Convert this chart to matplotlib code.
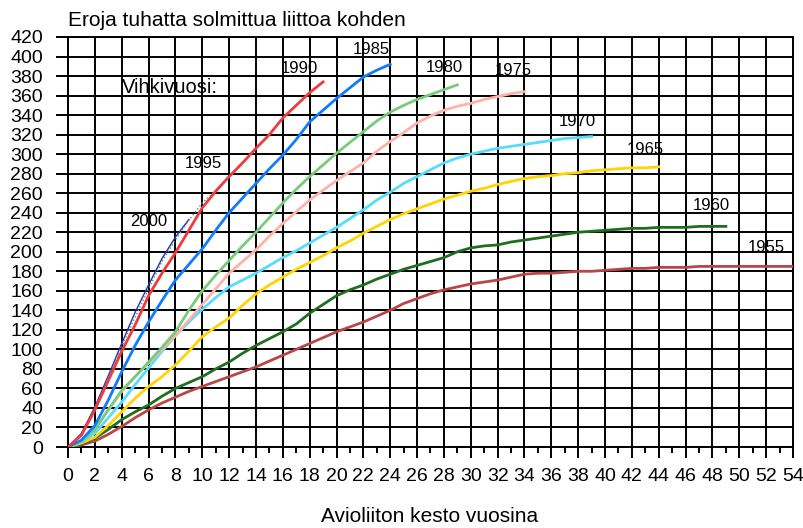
import matplotlib
matplotlib.use('Agg')
import matplotlib.pyplot as plt

# vihkivuosi -> erot tuhatta liittoa kohden avioliiton keston mukaan (0, 1, 2, ... vuotta)
y1955 = [0, 2, 6, 13, 21, 30, 38, 45, 51, 57, 62, 67, 72, 77, 82, 88, 94, 100, 106, 112,
         118, 123, 128, 134, 140, 147, 152, 157, 161, 164, 167, 169, 171, 174, 177, 178, 178,
         179, 180, 180, 181, 182, 183, 183, 184, 184, 184, 185, 185, 185, 185, 185, 185, 185, 185]
y1960 = [0, 3, 9, 18, 28, 36, 43, 52, 60, 66, 72, 80, 87, 96, 104, 111, 118, 126, 137, 146,
         155, 161, 166, 172, 177, 182, 186, 190, 194, 200, 204, 206, 207, 210, 212, 214, 216,
         218, 220, 221, 222, 223, 224, 224, 225, 225, 225, 226, 226, 226]
y1965 = [0, 4, 10, 22, 36, 50, 62, 72, 84, 98, 113, 123, 132, 145, 157, 166, 174, 182, 189,
         196, 204, 211, 219, 226, 233, 239, 244, 249, 254, 258, 262, 265, 269, 272, 275, 277,
         278, 280, 281, 283, 284, 285, 286, 286, 287]
y1970 = [0, 5, 14, 30, 46, 64, 81, 98, 114, 128, 141, 153, 164, 171, 178, 186, 194, 201, 209,
         217, 225, 234, 243, 253, 261, 270, 277, 284, 291, 296, 300, 303, 306, 308, 310, 312,
         314, 316, 317, 318]
y1975 = [0, 6, 18, 38, 57, 72, 86, 100, 114, 130, 146, 162, 178, 190, 202, 216, 229, 241, 253,
         263, 273, 282, 291, 303, 313, 322, 332, 339, 345, 349, 352, 356, 359, 362, 364]
y1980 = [0, 6, 18, 38, 58, 72, 87, 102, 118, 140, 160, 176, 191, 206, 220, 235, 250, 264, 277,
         289, 301, 312, 323, 334, 343, 350, 356, 361, 366, 371]
y1985 = [0, 7, 22, 48, 77, 104, 128, 150, 171, 187, 203, 222, 240, 255, 270, 285, 299, 315,
         333, 345, 357, 368, 379, 386, 392]
y1990 = [0, 12, 38, 68, 98, 125, 155, 178, 199, 222, 245, 262, 277, 291, 306, 320, 337, 350,
         363, 374]
y1995 = [0, 12, 40, 71, 103, 133, 162, 190, 212, 232, 250, 263, 277, 291, 305]
y2000 = [0, 14, 41, 73, 106, 138, 166, 193, 215, 233]

series = [
    ('1955', y1955, '#b94646', 2.0, '-'),
    ('1960', y1960, '#1f6e1f', 2.0, '-'),
    ('1965', y1965, '#ffd400', 2.0, '-'),
    ('1970', y1970, '#55dcff', 2.0, '-'),
    ('1975', y1975, '#ffb2aa', 2.0, '-'),
    ('1980', y1980, '#78cc78', 2.0, '-'),
    ('1985', y1985, '#0f7cff', 2.0, '-'),
    ('2000', y2000, '#2430b0', 1.0, '-'),
    ('1995', y1995, '#3c9c8a', 1.0, ':'),
    ('1990', y1990, '#ee3b3b', 2.0, '-'),
]

# nimiöiden paikat (vuosi, arvo)
label_pos = {
    '1955': (52.0, 204), '1960': (47.9, 247), '1965': (43.0, 305), '1970': (37.9, 333),
    '1975': (33.2, 386), '1980': (28.0, 389), '1985': (22.6, 407), '1990': (17.2, 388),
    '1995': (10.1, 290), '2000': (6.0, 231),
}

fig = plt.figure(figsize=(8.04, 5.28), dpi=100)
ax = fig.add_axes([68 / 804, 81 / 528, 725 / 804, 410 / 528])

for name, vals, col, lw, ls in series:
    ax.plot(range(len(vals)), vals, color=col, lw=lw, ls=ls, zorder=3)

for name, (lx, ly) in label_pos.items():
    ax.text(lx, ly, name, ha='center', va='center', fontsize=12,
            family='Liberation Sans', clip_on=False, zorder=4)
ax.text(4, 368, 'Vihkivuosi:', ha='left', va='center', fontsize=14.5,
        family='Liberation Sans', zorder=4)

ax.set_xlim(0, 54)
ax.set_ylim(0, 420)
ax.set_xticks(range(0, 55, 2))
ax.set_xticks(range(1, 54, 2), minor=True)
ax.set_yticks(range(0, 421, 20))
ax.grid(True, color='black', lw=1.4)
ax.tick_params(axis='x', which='major', direction='out', length=8, width=1.4, pad=7,
               labelsize=14)
ax.tick_params(axis='x', which='minor', direction='out', length=4, width=1.4)
ax.tick_params(axis='y', direction='out', length=9, width=1.4, pad=9, labelsize=14)
for lab in ax.get_xticklabels() + ax.get_yticklabels():
    lab.set_family(['Liberation Sans', 'DejaVu Sans'])
for sp in ax.spines.values():
    sp.set_color('black')
    sp.set_linewidth(1.4)

fig.text(68 / 804, 1 - 20 / 528, 'Eroja tuhatta solmittua liittoa kohden', ha='left',
         va='center', fontsize=15, family='Liberation Sans')
fig.text(430 / 804, 1 - 517 / 528, 'Avioliiton kesto vuosina', ha='center', va='center',
         fontsize=15, family='Liberation Sans')

fig.savefig('out.png', dpi=100)
